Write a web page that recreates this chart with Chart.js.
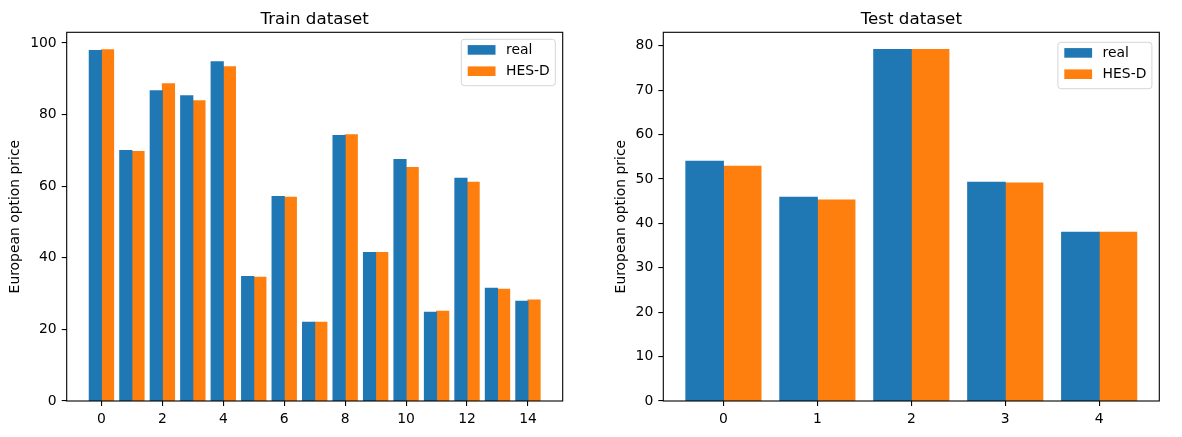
<!DOCTYPE html>
<html>
<head>
<meta charset="utf-8">
<script src="https://cdn.jsdelivr.net/npm/chart.js@4"></script>
<style>
  html, body { margin: 0; padding: 0; background: #fff; }
  #wrap { position: relative; width: 1182px; height: 437px; overflow: hidden; }
  canvas { position: absolute; top: 0; }
</style>
</head>
<body>
<div id="wrap">
  <canvas id="train" width="600" height="437" style="left:0px"></canvas>
  <canvas id="test" width="582" height="437" style="left:600px"></canvas>
</div>
<script>
// ---- data ----
const trainCategories = [0, 1, 2, 3, 4, 5, 6, 7, 8, 9, 10, 11, 12, 13, 14];
const trainReal = [97.9, 70.0, 86.7, 85.3, 94.8, 34.8, 57.1, 22.0, 74.2, 41.5, 67.5, 24.8, 62.2, 31.5, 27.9];
const trainHes  = [98.1, 69.7, 88.6, 83.9, 93.4, 34.6, 56.9, 22.0, 74.4, 41.5, 65.2, 25.1, 61.1, 31.2, 28.2];
const trainXTicks = [0, 2, 4, 6, 8, 10, 12, 14];
const trainYTicks = [0, 20, 40, 60, 80, 100];

const testCategories = [0, 1, 2, 3, 4];
const testReal = [54.0, 45.9, 79.2, 49.3, 38.0];
const testHes  = [52.9, 45.3, 79.2, 49.1, 38.0];
const testXTicks = [0, 1, 2, 3, 4];
const testYTicks = [0, 10, 20, 30, 40, 50, 60, 70, 80];

const seriesNames = ['real', 'HES-D'];
const titles = ['Train dataset', 'Test dataset'];
const yLabel = 'European option price';

// ---- styling ----
const BLUE = '#1f77b4';
const ORANGE = '#ff7f0e';
const FONT = "'DejaVu Sans', 'Liberation Sans', sans-serif";

const decorPlugin = {
  id: 'decor',
  afterDraw(chart, args, opts) {
    const ctx = chart.ctx;
    const a = chart.chartArea;
    ctx.save();
    // spines
    ctx.strokeStyle = '#000';
    ctx.lineWidth = 1.1;
    ctx.strokeRect(a.left, a.top, a.right - a.left, a.bottom - a.top);
    // title
    ctx.fillStyle = '#000';
    ctx.font = '16.7px ' + FONT;
    ctx.textAlign = 'center';
    ctx.textBaseline = 'alphabetic';
    ctx.fillText(opts.title, (a.left + a.right) / 2, a.top - 8.3);
    // y label
    ctx.save();
    ctx.font = '13.9px ' + FONT;
    ctx.translate(a.left - opts.yLabelOffset, (a.top + a.bottom) / 2);
    ctx.rotate(-Math.PI / 2);
    ctx.textAlign = 'center';
    ctx.textBaseline = 'middle';
    ctx.fillText(opts.yLabel, 0, 0);
    ctx.restore();
    // legend
    const w = 94, h = 46.4;
    const bx = a.right - 7.4 - w;
    const by = a.top + opts.legendTop;
    ctx.beginPath();
    if (ctx.roundRect) ctx.roundRect(bx, by, w, h, 3); else ctx.rect(bx, by, w, h);
    ctx.fillStyle = 'rgba(255,255,255,0.8)';
    ctx.fill();
    ctx.strokeStyle = 'rgba(204,204,204,0.8)';
    ctx.lineWidth = 1;
    ctx.stroke();
    ctx.font = '13.9px ' + FONT;
    ctx.textAlign = 'left';
    ctx.textBaseline = 'middle';
    chart.data.datasets.forEach((ds, i) => {
      const sy = by + 5.8 + i * 21.3;
      ctx.fillStyle = ds.backgroundColor;
      ctx.fillRect(bx + 6.4, sy, 27.8, 9.6);
      ctx.fillStyle = '#000';
      ctx.fillText(ds.label, bx + 44.7, sy + 5);
    });
    ctx.restore();
  }
};

function makeChart(id, cats, real, hes, xTicks, yTicks, xMin, xMax, yMax, box, title, yOff, legendTop) {
  const ctx = document.getElementById(id).getContext('2d');
  const common = { borderWidth: 0, borderColor: 'rgba(0,0,0,0)', inflateAmount: 0.5, categoryPercentage: 0.8, barPercentage: 1.0 };
  return new Chart(ctx, {
    type: 'bar',
    data: {
      datasets: [
        Object.assign({ label: seriesNames[0], data: cats.map((c, i) => ({ x: c, y: real[i] })), backgroundColor: BLUE }, common),
        Object.assign({ label: seriesNames[1], data: cats.map((c, i) => ({ x: c, y: hes[i] })), backgroundColor: ORANGE }, common)
      ]
    },
    options: {
      responsive: false,
      animation: false,
      devicePixelRatio: 1,
      layout: { padding: { left: 0, top: box.top, right: box.right, bottom: 0 } },
      plugins: {
        legend: { display: false },
        tooltip: { enabled: false },
        title: { display: false },
        decor: { title: title, yLabel: yLabel, yLabelOffset: yOff, legendTop: legendTop }
      },
      scales: {
        x: {
          type: 'linear',
          offset: false,
          min: xMin, max: xMax,
          afterBuildTicks: s => { s.ticks = xTicks.map(v => ({ value: v })); },
          afterFit: s => { s.height = box.xHeight; },
          grid: { display: true, drawOnChartArea: false, drawTicks: true, tickLength: 5, color: '#000', lineWidth: 1.1, offset: false },
          border: { display: false },
          ticks: { color: '#000', font: { family: FONT, size: 13.9 }, padding: 5, maxRotation: 0, autoSkip: false }
        },
        y: {
          type: 'linear',
          min: 0, max: yMax,
          afterBuildTicks: s => { s.ticks = yTicks.map(v => ({ value: v })); },
          afterFit: s => { s.width = box.yWidth; },
          grid: { display: true, drawOnChartArea: false, drawTicks: true, tickLength: 5, color: '#000', lineWidth: 1.1 },
          border: { display: false },
          ticks: { color: '#000', font: { family: FONT, size: 13.9 }, padding: 5 }
        }
      }
    },
    plugins: [decorPlugin]
  });
}

makeChart('train', trainCategories, trainReal, trainHes, trainXTicks, trainYTicks, -1.14, 15.14, 103.0,
  { top: 32.3, right: 600 - 562.7, yWidth: 66.7, xHeight: 36 }, titles[0], 51.2, 7);
makeChart('test', testCategories, testReal, testHes, testXTicks, testYTicks, -0.64, 4.64, 83.05,
  { top: 32.3, right: 582 - 559.3, yWidth: 63.3, xHeight: 36 }, titles[1], 42, 10);
</script>
</body>
</html>
